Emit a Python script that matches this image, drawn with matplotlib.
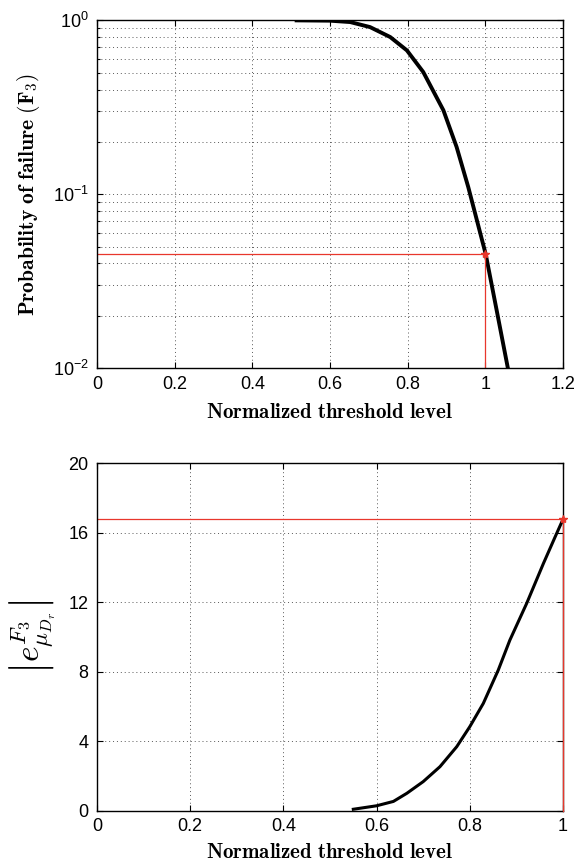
import numpy as np
import matplotlib
matplotlib.use("Agg")
import matplotlib.pyplot as plt
from matplotlib.ticker import LogLocator, NullFormatter

# --- data ---
thr_pf = [0.514, 0.60, 0.652, 0.703, 0.755, 0.798, 0.840, 0.892,
          0.926, 0.956, 0.985, 1.001, 1.029, 1.058]
pf = [1.0, 0.996, 0.978, 0.915, 0.802, 0.672, 0.505, 0.304,
      0.187, 0.110, 0.062, 0.0452, 0.0216, 0.01]

thr_err = [0.550, 0.600, 0.636, 0.665, 0.700, 0.736, 0.772, 0.800, 0.829,
           0.861, 0.886, 0.922, 0.958, 0.983, 1.0]
err = [0.10, 0.30, 0.55, 1.02, 1.69, 2.55, 3.70, 4.85, 6.19,
       8.10, 9.83, 11.94, 14.24, 15.76, 16.78]

mark_x = 1.0
mark_pf = 0.0452
mark_err = 16.78

x_ticks_top = [0, 0.2, 0.4, 0.6, 0.8, 1, 1.2]
x_tick_labels_top = ["0", "0.2", "0.4", "0.6", "0.8", "1", "1.2"]
x_ticks_bot = [0, 0.2, 0.4, 0.6, 0.8, 1]
x_tick_labels_bot = ["0", "0.2", "0.4", "0.6", "0.8", "1"]
y_ticks_bot = [0, 4, 8, 12, 16, 20]

plt.rcParams["font.family"] = ["Liberation Sans", "DejaVu Sans"]
plt.rcParams["mathtext.fontset"] = "custom"
plt.rcParams["mathtext.rm"] = "Liberation Sans"
plt.rcParams["mathtext.it"] = "Liberation Sans:italic"
plt.rcParams["mathtext.bf"] = "Liberation Sans:bold"

RED = "#e8372c"
fig = plt.figure(figsize=(5.81, 8.67), dpi=100)


def style_axes(ax):
    ax.tick_params(which="both", direction="in", top=True, right=True,
                   labelsize=13, width=0.8)
    ax.tick_params(which="major", length=4, pad=6)
    ax.tick_params(which="minor", length=2)
    for s in ax.spines.values():
        s.set_linewidth(1.0)
    ax.grid(True, which="major", linestyle=(0, (1, 3)), color="0.35", linewidth=0.7)


# top panel: probability of failure
ax1 = fig.add_axes([0.167, 0.5755, 0.802, 0.401])
ax1.semilogy(thr_pf, pf, color="black", linewidth=2.8, solid_joinstyle="round")
ax1.plot([0, mark_x], [mark_pf, mark_pf], color=RED, linewidth=0.9)
ax1.plot([mark_x, mark_x], [0.01, mark_pf], color=RED, linewidth=0.9)
ax1.plot(mark_x, mark_pf, marker="*", color=RED, markersize=6)
ax1.set_xlim(0, 1.2)
ax1.set_ylim(1e-2, 1e0)
ax1.set_xticks(x_ticks_top)
ax1.set_xticklabels(x_tick_labels_top)
ax1.yaxis.set_major_locator(LogLocator(base=10, numticks=5))
ax1.yaxis.set_minor_locator(LogLocator(base=10, subs=np.arange(2, 10), numticks=20))
ax1.yaxis.set_minor_formatter(NullFormatter())
style_axes(ax1)
ax1.grid(True, which="minor", axis="y", linestyle=(0, (1, 3)), color="0.35", linewidth=0.7)
ax1.set_xlabel(r"$\mathbf{Normalized\ threshold\ level}$", fontsize=15,
               math_fontfamily="cm", labelpad=7)
ax1.set_ylabel(r"$\mathbf{Probability\ of\ failure\ (F_3)}$", fontsize=15.5,
               math_fontfamily="cm", labelpad=8)

# bottom panel: error magnitude
ax2 = fig.add_axes([0.167, 0.0646, 0.802, 0.401])
ax2.plot(thr_err, err, color="black", linewidth=2.2, solid_joinstyle="round")
ax2.plot([0, mark_x], [mark_err, mark_err], color=RED, linewidth=0.9)
ax2.plot([mark_x, mark_x], [0, mark_err], color=RED, linewidth=0.9, zorder=5,
         clip_on=False)
ax2.plot(mark_x, mark_err, marker="*", color=RED, markersize=6, clip_on=False,
         zorder=6)
ax2.set_xlim(0, 1)
ax2.set_ylim(0, 20)
ax2.set_xticks(x_ticks_bot)
ax2.set_xticklabels(x_tick_labels_bot)
ax2.set_yticks(y_ticks_bot)
style_axes(ax2)
ax2.tick_params(axis="x", pad=5)
ax2.set_xlabel(r"$\mathbf{Normalized\ threshold\ level}$", fontsize=15,
               math_fontfamily="cm", labelpad=6)
ax2.set_ylabel(r"$\left|e^{F_3}_{\mu_{D_r}}\right|$", fontsize=24,
               math_fontfamily="cm", labelpad=8)

fig.savefig("out.png", dpi=100)
